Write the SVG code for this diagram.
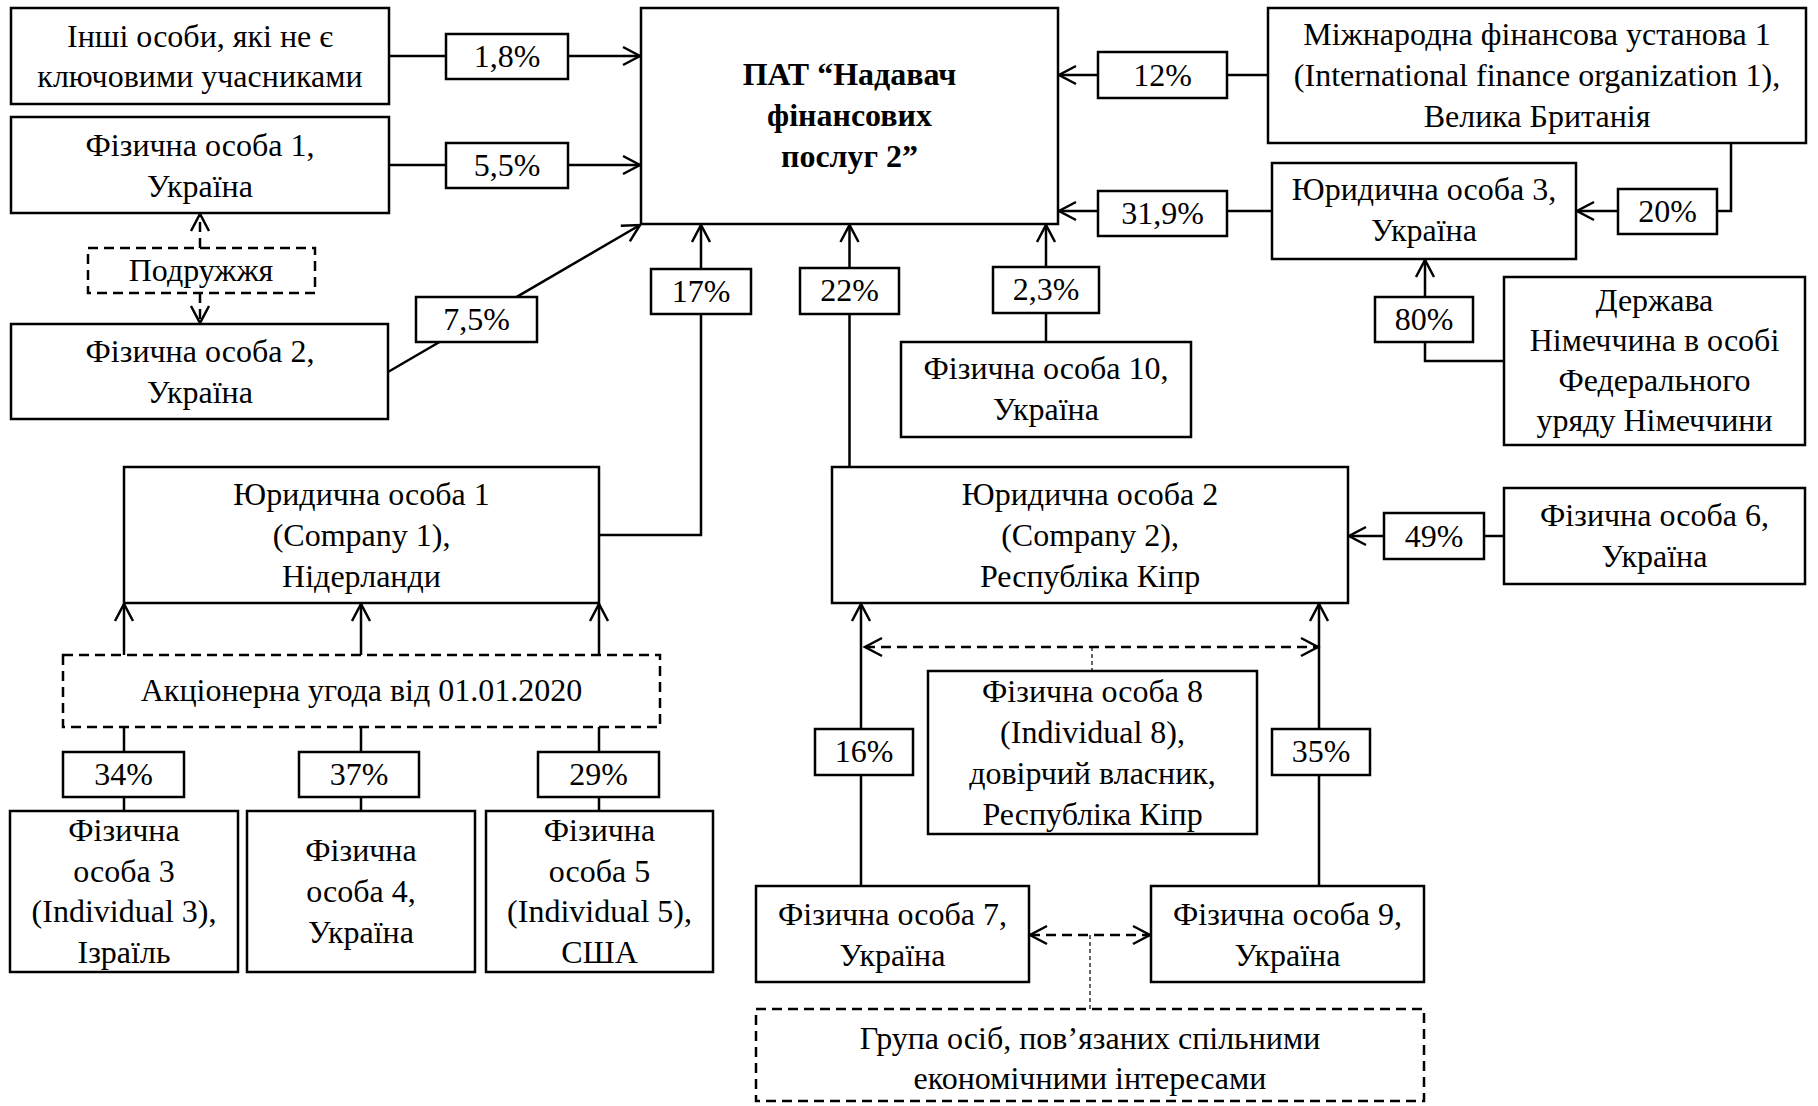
<svg xmlns="http://www.w3.org/2000/svg" width="1818" height="1106" viewBox="0 0 1818 1106">
<style>
.box{fill:#fff;stroke:#000;stroke-width:2.5}
.dbox{fill:#fff;stroke:#000;stroke-width:2.5;stroke-dasharray:10 6}
.lbl{fill:#fff;stroke:#000;stroke-width:2.5}
.ln{fill:none;stroke:#000;stroke-width:2.5}
.dln{fill:none;stroke:#000;stroke-width:2.5;stroke-dasharray:10 6}
.tln{fill:none;stroke:#000;stroke-width:1.2;stroke-dasharray:4 3}
.t{font-family:"Liberation Serif","Times New Roman",serif;font-size:32px;text-anchor:middle;fill:#000}
.b{font-weight:bold}
</style>
<defs>
<marker id="ah" markerUnits="userSpaceOnUse" orient="auto-start-reverse" refX="0" refY="0" markerWidth="20" markerHeight="20" overflow="visible">
<path d="M -17 -9 L 0 0 L -17 9" fill="none" stroke="#000" stroke-width="2.5" stroke-dasharray="none"/>
</marker>
</defs>
<rect width="1818" height="1106" fill="#fff"/>

<g id="connectors">
<line class="ln" x1="389" y1="56" x2="640" y2="56" marker-end="url(#ah)"/>
<line class="ln" x1="389" y1="165" x2="640" y2="165" marker-end="url(#ah)"/>
<line class="ln" x1="388" y1="372" x2="640" y2="225" marker-end="url(#ah)"/>
<line class="dln" x1="200" y1="248" x2="200" y2="214" marker-end="url(#ah)"/>
<line class="dln" x1="200" y1="293" x2="200" y2="323" marker-end="url(#ah)"/>
<path class="ln" d="M 599 535 H 701 V 225" marker-end="url(#ah)"/>
<line class="ln" x1="849.5" y1="467" x2="849.5" y2="225" marker-end="url(#ah)"/>
<line class="ln" x1="1046" y1="342" x2="1046" y2="225" marker-end="url(#ah)"/>
<line class="ln" x1="1268" y1="75" x2="1059" y2="75" marker-end="url(#ah)"/>
<line class="ln" x1="1272" y1="211" x2="1059" y2="211" marker-end="url(#ah)"/>
<path class="ln" d="M 1731 143 V 211 H 1577" marker-end="url(#ah)"/>
<path class="ln" d="M 1504 361 H 1425 V 260" marker-end="url(#ah)"/>
<line class="ln" x1="1504" y1="536" x2="1349" y2="536" marker-end="url(#ah)"/>
<line class="ln" x1="124" y1="655" x2="124" y2="604" marker-end="url(#ah)"/>
<line class="ln" x1="361" y1="655" x2="361" y2="604" marker-end="url(#ah)"/>
<line class="ln" x1="599" y1="655" x2="599" y2="604" marker-end="url(#ah)"/>
<line class="ln" x1="124" y1="811" x2="124" y2="727"/>
<line class="ln" x1="361" y1="811" x2="361" y2="727"/>
<line class="ln" x1="599" y1="811" x2="599" y2="727"/>
<line class="ln" x1="861" y1="886" x2="861" y2="604" marker-end="url(#ah)"/>
<line class="ln" x1="1319" y1="886" x2="1319" y2="604" marker-end="url(#ah)"/>
<line class="dln" x1="865" y1="647" x2="1318" y2="647" marker-start="url(#ah)" marker-end="url(#ah)"/>
<line class="tln" x1="1092" y1="647" x2="1092" y2="671"/>
<line class="dln" x1="1030" y1="935" x2="1150" y2="935" marker-start="url(#ah)" marker-end="url(#ah)"/>
<line class="tln" x1="1090" y1="935" x2="1090" y2="1009"/>

<rect class="lbl" x="446" y="34" width="122" height="45"/><text class="t" x="507" y="67">1,8%</text>
<rect class="lbl" x="446" y="143" width="122" height="45"/><text class="t" x="507" y="176">5,5%</text>
<rect class="lbl" x="416" y="297" width="121" height="45"/><text class="t" x="476.5" y="330">7,5%</text>
<rect class="lbl" x="651" y="269" width="100" height="45"/><text class="t" x="701" y="302">17%</text>
<rect class="lbl" x="800" y="268" width="99" height="46"/><text class="t" x="849.5" y="301">22%</text>
<rect class="lbl" x="993" y="267" width="106" height="46"/><text class="t" x="1046" y="300">2,3%</text>
<rect class="lbl" x="1098" y="52" width="129" height="46"/><text class="t" x="1162.5" y="86">12%</text>
<rect class="lbl" x="1098" y="191" width="129" height="45"/><text class="t" x="1162.5" y="224">31,9%</text>
<rect class="lbl" x="1618" y="189" width="99" height="45"/><text class="t" x="1667.5" y="222">20%</text>
<rect class="lbl" x="1375" y="297" width="98" height="45"/><text class="t" x="1424" y="330">80%</text>
<rect class="lbl" x="1384" y="513" width="100" height="46"/><text class="t" x="1434" y="547">49%</text>
<rect class="lbl" x="63" y="752" width="121" height="45"/><text class="t" x="123.5" y="785">34%</text>
<rect class="lbl" x="299" y="752" width="120" height="45"/><text class="t" x="359" y="785">37%</text>
<rect class="lbl" x="538" y="752" width="121" height="45"/><text class="t" x="598.5" y="785">29%</text>
<rect class="lbl" x="815" y="729" width="98" height="46"/><text class="t" x="864" y="762">16%</text>
<rect class="lbl" x="1272" y="729" width="98" height="46"/><text class="t" x="1321" y="762">35%</text>
</g>

<g id="n_other"><rect class="box" x="11" y="8" width="378" height="96"/>
<text class="t" x="200" y="47">Інші особи, які не є</text><text class="t" x="200" y="87">ключовими учасниками</text></g>
<g id="n_fo1"><rect class="box" x="11" y="117" width="378" height="96"/>
<text class="t" x="200" y="156">Фізична особа 1,</text><text class="t" x="200" y="197">Україна</text></g>
<g id="n_spouse"><rect class="dbox" x="88" y="248" width="227" height="45"/>
<text class="t" x="201" y="281">Подружжя</text></g>
<g id="n_fo2"><rect class="box" x="11" y="324" width="377" height="95"/>
<text class="t" x="200" y="362">Фізична особа 2,</text><text class="t" x="200" y="403">Україна</text></g>
<g id="n_pat"><rect class="box" x="641" y="8" width="417" height="216"/>
<text class="t b" x="849.5" y="85">ПАТ “Надавач</text><text class="t b" x="849.5" y="126">фінансових</text><text class="t b" x="849.5" y="167">послуг 2”</text></g>
<g id="n_intl"><rect class="box" x="1268" y="8" width="538" height="135"/>
<text class="t" x="1537" y="45">Міжнародна фінансова установа 1</text><text class="t" x="1537" y="86">(International finance organization 1),</text><text class="t" x="1537" y="127">Велика Британія</text></g>
<g id="n_le3"><rect class="box" x="1272" y="163" width="304" height="96"/>
<text class="t" x="1424" y="200">Юридична особа 3,</text><text class="t" x="1424" y="241">Україна</text></g>
<g id="n_germany"><rect class="box" x="1504" y="277" width="301" height="168"/>
<text class="t" x="1654.5" y="311">Держава</text><text class="t" x="1654.5" y="351">Німеччина в особі</text><text class="t" x="1654.5" y="391">Федерального</text><text class="t" x="1654.5" y="431">уряду Німеччини</text></g>
<g id="n_fo10"><rect class="box" x="901" y="342" width="290" height="95"/>
<text class="t" x="1046" y="379">Фізична особа 10,</text><text class="t" x="1046" y="420">Україна</text></g>
<g id="n_le1"><rect class="box" x="124" y="467" width="475" height="136"/>
<text class="t" x="361.5" y="505">Юридична особа 1</text><text class="t" x="361.5" y="546">(Company 1),</text><text class="t" x="361.5" y="587">Нідерланди</text></g>
<g id="n_le2"><rect class="box" x="832" y="467" width="516" height="136"/>
<text class="t" x="1090" y="505">Юридична особа 2</text><text class="t" x="1090" y="546">(Company 2),</text><text class="t" x="1090" y="587">Республіка Кіпр</text></g>
<g id="n_fo6"><rect class="box" x="1504" y="488" width="301" height="96"/>
<text class="t" x="1654.5" y="526">Фізична особа 6,</text><text class="t" x="1654.5" y="567">Україна</text></g>
<g id="n_sha"><rect class="dbox" x="63" y="655" width="597" height="72"/>
<text class="t" x="361.5" y="701">Акціонерна угода від 01.01.2020</text></g>
<g id="n_fo3"><rect class="box" x="10" y="811" width="228" height="161"/>
<text class="t" x="124" y="841">Фізична</text><text class="t" x="124" y="882">особа 3</text><text class="t" x="124" y="922">(Individual 3),</text><text class="t" x="124" y="963">Ізраїль</text></g>
<g id="n_fo4"><rect class="box" x="247" y="811" width="228" height="161"/>
<text class="t" x="361" y="861">Фізична</text><text class="t" x="361" y="902">особа 4,</text><text class="t" x="361" y="943">Україна</text></g>
<g id="n_fo5"><rect class="box" x="486" y="811" width="227" height="161"/>
<text class="t" x="599.5" y="841">Фізична</text><text class="t" x="599.5" y="882">особа 5</text><text class="t" x="599.5" y="922">(Individual 5),</text><text class="t" x="599.5" y="963">США</text></g>
<g id="n_fo8"><rect class="box" x="928" y="671" width="329" height="163"/>
<text class="t" x="1092.5" y="702">Фізична особа 8</text><text class="t" x="1092.5" y="743">(Individual 8),</text><text class="t" x="1092.5" y="784">довірчий власник,</text><text class="t" x="1092.5" y="825">Республіка Кіпр</text></g>
<g id="n_fo7"><rect class="box" x="756" y="886" width="273" height="96"/>
<text class="t" x="892.5" y="925">Фізична особа 7,</text><text class="t" x="892.5" y="966">Україна</text></g>
<g id="n_fo9"><rect class="box" x="1151" y="886" width="273" height="96"/>
<text class="t" x="1287.5" y="925">Фізична особа 9,</text><text class="t" x="1287.5" y="966">Україна</text></g>
<g id="n_group"><rect class="dbox" x="756" y="1009" width="668" height="92"/>
<text class="t" x="1090" y="1049">Група осіб, пов’язаних спільними</text><text class="t" x="1090" y="1089">економічними інтересами</text></g>
</svg>
